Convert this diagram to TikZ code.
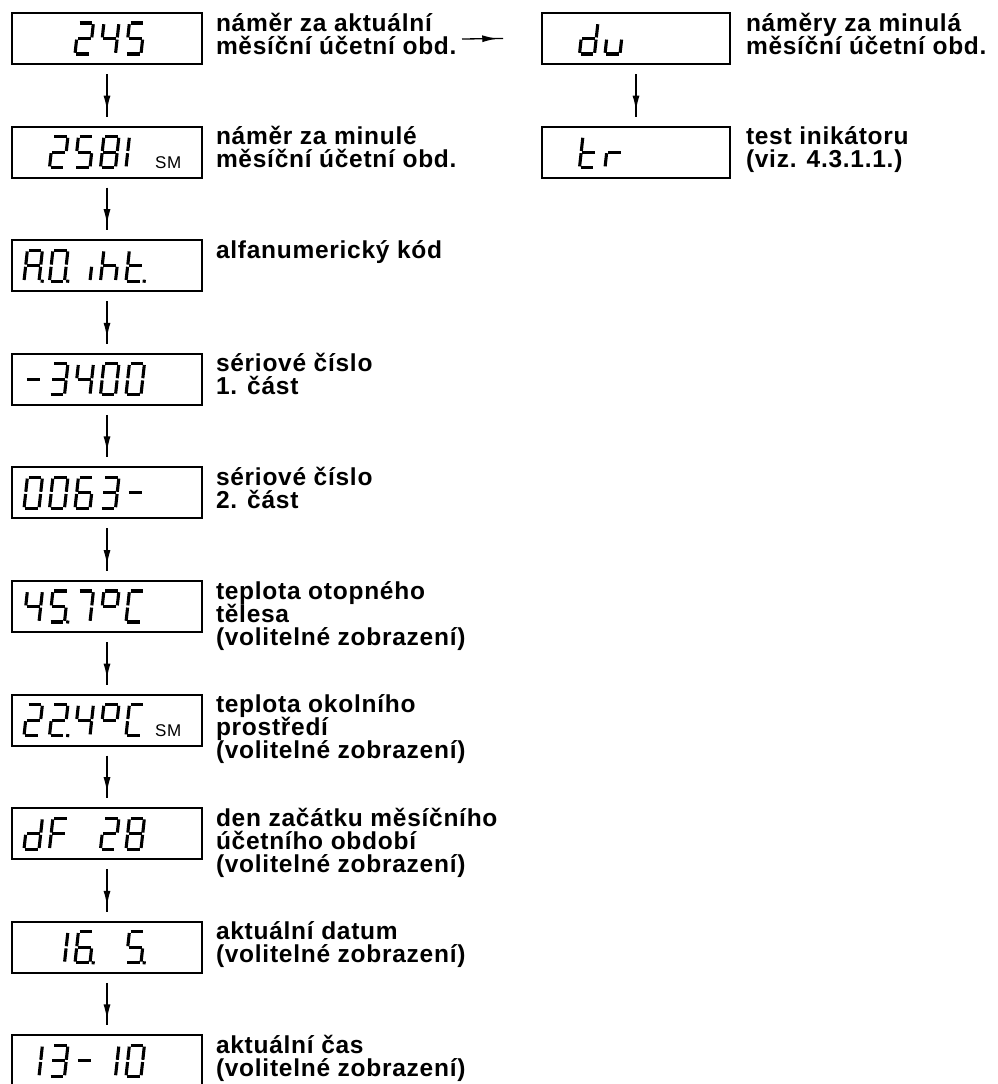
\documentclass[tikz,border=0pt]{standalone}
\usepackage{fontspec}
\setmainfont{Liberation Sans}
\newfontfamily\lblfont{Liberation Sans}[LetterSpace=3]
\newfontfamily\smfont{Liberation Sans}[LetterSpace=4]
\usetikzlibrary{calc,arrows.meta,decorations.markings}
\setlength\parindent{0pt}
% seven-segment geometry (local units, origin = bottom left of a cell, y grows downwards)
\def\sega{(1.2,-31) -- (13.8,-31)}
\def\segb{(15,-29.8) -- (15,-16.6)}
\def\segc{(15,-14.4) -- (15,-1.2)}
\def\segd{(1.2,0) -- (13.8,0)}
\def\sege{(0,-1.2) -- (0,-14.4)}
\def\segf{(0,-16.6) -- (0,-29.8)}
\def\segg{(1.2,-15.5) -- (13.8,-15.5)}
\def\segp{(18.2,-1.5) -- (18.2,1.5)}
\newcommand\lcd[3]{%
  \begin{scope}[shift={($(#1.south west)+({12+25.5*#2},-10)$)}, xslant=0.11]
    \foreach \s in {#3}{\edef\segpath{\csname seg\s\endcsname}\draw[segline] \segpath;}
  \end{scope}}
\newcommand\lbl[1]{\begin{minipage}[t]{300pt}\lblfont\bfseries\fontsize{24.5}{23}\selectfont\lineskiplimit=-100pt\raggedright #1\end{minipage}}
\begin{document}
\begin{tikzpicture}[x=1pt,y=-1pt,
  disp/.style={draw=black, line width=2pt, minimum width=190pt, minimum height=51pt, inner sep=0pt, outer sep=0pt},
  segline/.style={line width=3.1pt, line cap=butt, draw=black},
  lblnode/.style={anchor=base west, inner sep=0pt, outer sep=0pt},
  smnode/.style={anchor=base west, inner sep=0pt, font=\smfont\fontsize{17}{17}\selectfont},
  conn/.style={line width=1.3pt, draw=black, postaction={decorate},
    decoration={markings, mark=at position 0.86 with {\arrow{Latex[length=15pt,width=7pt]}}}}]
\useasboundingbox (0,0) rectangle (998,1084);

% ---- left column displays
\node[disp] (b0) at (107,38.5) {};
\node[disp] (b1) at (107,152.1) {};
\node[disp] (b2) at (107,265.7) {};
\node[disp] (b3) at (107,379.3) {};
\node[disp] (b4) at (107,492.9) {};
\node[disp] (b5) at (107,606.5) {};
\node[disp] (b6) at (107,720.1) {};
\node[disp] (b7) at (107,833.7) {};
\node[disp] (b8) at (107,947.3) {};
\node[disp] (b9) at (107,1060.9) {};
% ---- right column displays
\node[disp, minimum width=188pt] (r0) at (636,38.5) {};
\node[disp, minimum width=188pt] (r1) at (636,152.1) {};

% ---- digits
% 245
\lcd{b0}{2}{a,b,g,e,d}\lcd{b0}{3}{f,g,b,c}\lcd{b0}{4}{a,f,g,c,d}
% 2581 SM
\lcd{b1}{1}{a,b,g,e,d}\lcd{b1}{2}{a,f,g,c,d}\lcd{b1}{3}{a,b,c,d,e,f,g}\lcd{b1}{4}{e,f}
\node[smnode] (sm1) at ($(b1.south west)+(143,-9)$) {SM};
% A.0. iht.
\lcd{b2}{0}{a,b,c,e,f,g,p}\lcd{b2}{1}{a,b,c,d,e,f,p}\lcd{b2}{2}{c}\lcd{b2}{3}{f,e,g,c}\lcd{b2}{4}{f,e,g,d,p}
% -3400
\lcd{b3}{0}{g}\lcd{b3}{1}{a,b,g,c,d}\lcd{b3}{2}{f,g,b,c}\lcd{b3}{3}{a,b,c,d,e,f}\lcd{b3}{4}{a,b,c,d,e,f}
% 0063-
\lcd{b4}{0}{a,b,c,d,e,f}\lcd{b4}{1}{a,b,c,d,e,f}\lcd{b4}{2}{a,f,g,e,d,c}\lcd{b4}{3}{a,b,g,c,d}\lcd{b4}{4}{g}
% 45.7 deg C
\lcd{b5}{0}{f,g,b,c}\lcd{b5}{1}{a,f,g,c,d,p}\lcd{b5}{2}{a,b,c}\lcd{b5}{3}{a,b,f,g}\lcd{b5}{4}{a,d,e,f}
% 22.4 deg C SM
\lcd{b6}{0}{a,b,g,e,d}\lcd{b6}{1}{a,b,g,e,d,p}\lcd{b6}{2}{f,g,b,c}\lcd{b6}{3}{a,b,f,g}\lcd{b6}{4}{a,d,e,f}
\node[smnode] (sm6) at ($(b6.south west)+(143,-9)$) {SM};
% dF 28
\lcd{b7}{0}{b,c,d,e,g}\lcd{b7}{1}{a,e,f,g}\lcd{b7}{3}{a,b,g,e,d}\lcd{b7}{4}{a,b,c,d,e,f,g}
% 16. 5.
\lcd{b8}{1}{b,c}\lcd{b8}{2}{a,f,g,e,d,c,p}\lcd{b8}{4}{a,f,g,c,d,p}
% 13- 10
\lcd{b9}{0}{b,c}\lcd{b9}{1}{a,b,g,c,d}\lcd{b9}{2}{g}\lcd{b9}{3}{b,c}\lcd{b9}{4}{a,b,c,d,e,f}
% du
\lcd{r0}{1}{b,c,d,e,g}\lcd{r0}{2}{c,d,e}
% tr
\lcd{r1}{1}{f,e,g,d}\lcd{r1}{2}{e,g}

% ---- labels
\node[lblnode] (l0) at (216,31) {\lbl{náměr za aktuální\\měsíční účetní obd.}};
\node[lblnode] (l1) at (216,144.6) {\lbl{náměr za minulé\\měsíční účetní obd.}};
\node[lblnode] (l2) at (216,258.2) {\lbl{alfanumerický kód}};
\node[lblnode] (l3) at (216,371.8) {\lbl{sériové číslo\\1. část}};
\node[lblnode] (l4) at (216,485.4) {\lbl{sériové číslo\\2. část}};
\node[lblnode] (l5) at (216,599) {\lbl{teplota otopného\\tělesa\\(volitelné zobrazení)}};
\node[lblnode] (l6) at (216,712.6) {\lbl{teplota okolního\\prostředí\\(volitelné zobrazení)}};
\node[lblnode] (l7) at (216,826.2) {\lbl{den začátku měsíčního\\účetního období\\(volitelné zobrazení)}};
\node[lblnode] (l8) at (216,939.8) {\lbl{aktuální datum\\(volitelné zobrazení)}};
\node[lblnode] (l9) at (216,1053.4) {\lbl{aktuální čas\\(volitelné zobrazení)}};
\node[lblnode] (lr0) at (746,31) {\lbl{náměry za minulá\\měsíční účetní obd.}};
\node[lblnode] (lr1) at (746,144.6) {\lbl{test inikátoru\\(viz. 4.3.1.1.)}};

% ---- connectors
\foreach \a/\b in {b0/b1,b1/b2,b2/b3,b3/b4,b4/b5,b5/b6,b6/b7,b7/b8,b8/b9,r0/r1}{
  \draw[conn] ($(\a.south)+(0,10)$) -- ($(\b.north)+(0,-10)$);
}
\coordinate (hstart) at (462,39);
\draw[conn] (hstart) -- ($(r0.west)+(-39,0)$);
\end{tikzpicture}
\end{document}
